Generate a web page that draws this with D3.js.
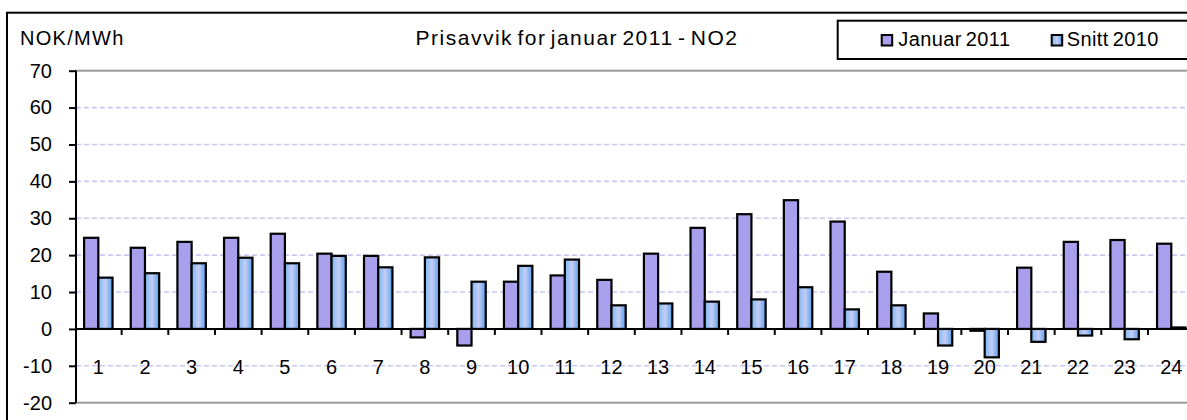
<!DOCTYPE html>
<html>
<head>
<meta charset="utf-8">
<script src="https://cdn.jsdelivr.net/npm/d3@7"></script>
<style>
  body { margin: 0; background: #fff; }
  svg { display: block; font-family: Arial, "Liberation Sans", sans-serif; }
</style>
</head>
<body>
<div id="chart"></div>
<script>
const width = 1187;
const height = 420;

// Data
const hours = d3.range(1, 25).map(String);
const januar2011 = [24.7, 22.0, 23.6, 24.7, 25.8, 20.4, 19.8, -2.3, -4.5, 12.8, 14.5, 13.3,
  20.4, 27.4, 31.1, 34.9, 29.1, 15.5, 4.2, -0.5, 16.6, 23.6, 24.1, 23.1];
const snitt2010 = [13.9, 15.1, 17.8, 19.3, 17.8, 19.8, 16.7, 19.4, 12.8, 17.1, 18.8, 6.4,
  6.9, 7.4, 8.0, 11.3, 5.3, 6.4, -4.5, -7.7, -3.5, -1.8, -2.8, 0.4];
const seriesNames = ["Januar 2011", "Snitt 2010"];
const yTicks = d3.range(-20, 71, 10);

const rows = hours.map((h, i) => ({ hour: h, values: [januar2011[i], snitt2010[i]] }));

const svg = d3.select("#chart").append("svg")
    .attr("width", width)
    .attr("height", height);

const defs = svg.append("defs");
const grad = defs.append("linearGradient")
    .attr("id", "snittFill")
    .attr("x1", "0%").attr("x2", "100%")
    .attr("y1", "0%").attr("y2", "0%");
grad.append("stop").attr("offset", "0%").attr("stop-color", "#7ab8f4");
grad.append("stop").attr("offset", "50%").attr("stop-color", "#c6cdf4");
grad.append("stop").attr("offset", "100%").attr("stop-color", "#56a0ee");

const colors = ["#a99fec", "url(#snittFill)"];

// scales
const left = 75, step = 46.65;
const x = d3.scaleBand()
    .domain(hours)
    .range([left, left + step * hours.length]);

const xSub = d3.scaleBand()
    .domain([0, 1])
    .range([0, x.bandwidth()])
    .paddingOuter(0.64)
    .paddingInner(0);

const y = d3.scaleLinear()
    .domain([-20, 70])
    .range([402.7, 70.7]);

// outer chart frame
svg.append("rect")
    .attr("x", 7).attr("y", 12.7)
    .attr("width", 1300).attr("height", 500)
    .attr("fill", "#fff")
    .attr("stroke", "#000")
    .attr("stroke-width", 2);

// plot area border (top / bottom grey)
svg.append("rect")
    .attr("x", 76).attr("y", y(70))
    .attr("width", 1200).attr("height", y(-20) - y(70))
    .attr("fill", "none")
    .attr("stroke", "#9a9a9a")
    .attr("stroke-width", 2);

// gridlines
svg.append("g")
  .selectAll("line")
  .data(yTicks.filter(d => d !== 0 && d !== 70 && d !== -20))
  .join("line")
    .attr("x1", 76).attr("x2", width)
    .attr("y1", d => y(d)).attr("y2", d => y(d))
    .attr("stroke", "#c8c8f6")
    .attr("stroke-width", 1.6)
    .attr("stroke-dasharray", "5,3");

// x labels
const xAxis = svg.append("g")
    .attr("transform", `translate(0,${y(0)})`)
    .call(d3.axisBottom(x).tickSize(0).tickPadding(31))
    .call(g => g.select(".domain").remove());
xAxis.selectAll("text")
    .attr("fill", "#000")
    .style("font-size", "20px")
    .style("font-family", "Arial, 'Liberation Sans', sans-serif");

// bars
svg.append("g")
  .selectAll("g")
  .data(rows)
  .join("g")
    .attr("transform", d => `translate(${x(d.hour)},0)`)
  .selectAll("rect")
  .data(d => d.values.map((v, i) => ({ v, i })))
  .join("rect")
    .attr("x", d => xSub(d.i))
    .attr("width", xSub.bandwidth())
    .attr("y", d => y(Math.max(0, d.v)))
    .attr("height", d => Math.abs(y(d.v) - y(0)))
    .attr("fill", d => colors[d.i])
    .attr("stroke", "#000")
    .attr("stroke-width", 2.2);

// category axis line with boundary ticks
svg.append("line")
    .attr("x1", 76).attr("x2", width)
    .attr("y1", y(0)).attr("y2", y(0))
    .attr("stroke", "#000")
    .attr("stroke-width", 2);
svg.append("g")
  .selectAll("line")
  .data(hours.slice(0, -1))
  .join("line")
    .attr("x1", d => x(d) + step).attr("x2", d => x(d) + step)
    .attr("y1", y(0)).attr("y2", y(0) + 6)
    .attr("stroke", "#000")
    .attr("stroke-width", 2);

// y axis
const yAxis = svg.append("g")
    .attr("transform", "translate(76,0)")
    .call(d3.axisLeft(y).tickValues(yTicks).tickFormat(d => String(d))
      .tickSize(7).tickPadding(17));
yAxis.select(".domain").attr("stroke", "#000").attr("stroke-width", 2)
    .attr("d", `M0,${y(70)}V${y(-20)}`);
yAxis.selectAll(".tick line").attr("stroke", "#000").attr("stroke-width", 2);
yAxis.selectAll("text")
    .attr("fill", "#000")
    .style("font-size", "20px")
    .style("font-family", "Arial, 'Liberation Sans', sans-serif");

// titles
svg.append("text")
    .attr("x", 20).attr("y", 45)
    .style("font-size", "20px")
    .style("letter-spacing", "1.3px")
    .text("NOK/MWh");

svg.append("text")
    .attr("x", 577).attr("y", 44.5)
    .attr("text-anchor", "middle")
    .style("font-size", "21px")
    .style("letter-spacing", "1.5px")
    .style("word-spacing", "-3px")
    .text("Prisavvik for  januar 2011 - NO2");

// legend
const legend = svg.append("g");
legend.append("rect")
    .attr("x", 837.7).attr("y", 20.7)
    .attr("width", 400).attr("height", 38.3)
    .attr("fill", "#fff")
    .attr("stroke", "#000")
    .attr("stroke-width", 2);
const legendX = [881.7, 1051.7];
const item = legend.selectAll("g.item")
  .data(seriesNames)
  .join("g")
    .attr("class", "item")
    .attr("transform", (d, i) => `translate(${legendX[i]},35)`);
item.append("rect")
    .attr("width", 10.5).attr("height", 10.5)
    .attr("fill", (d, i) => colors[i])
    .attr("stroke", "#000")
    .attr("stroke-width", 2);
item.append("text")
    .attr("x", (d, i) => i === 0 ? 16.6 : 15)
    .attr("y", 10.8)
    .style("font-size", "20px")
    .style("letter-spacing", "0.4px")
    .style("word-spacing", "-2px")
    .text(d => d);
</script>
</body>
</html>
